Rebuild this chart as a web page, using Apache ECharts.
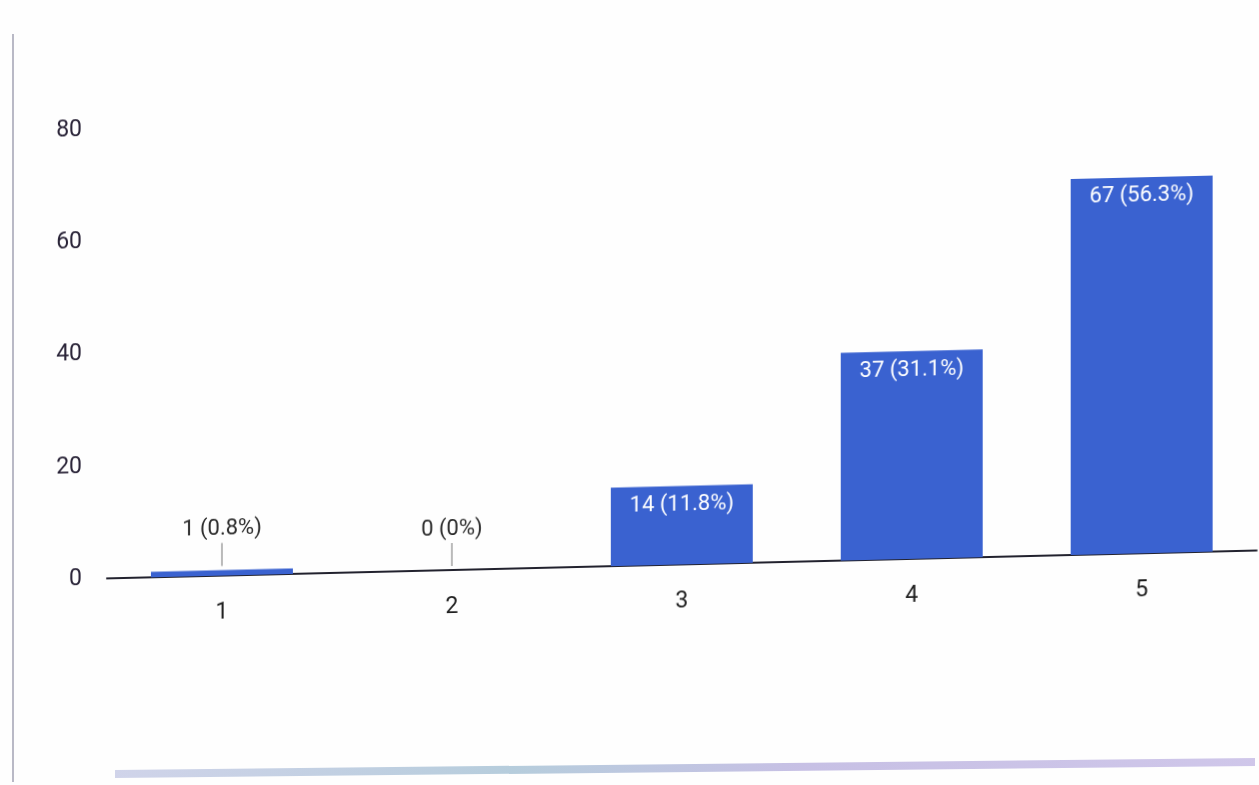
<!DOCTYPE html>
<html>
<head>
<meta charset="utf-8">
<script src="https://cdn.jsdelivr.net/npm/echarts@6/dist/echarts.min.js"></script>
<style>
  html, body { margin: 0; padding: 0; background: #ffffff; overflow: hidden; }
  #page { position: relative; width: 1259px; height: 785px; background: #fefefe; }
  #frame { position: absolute; left: 12px; top: 34px; width: 2px; height: 748px; background: #b9b9c6; }
  #strip { position: absolute; left: 115px; top: 770px; width: 1140px; height: 8px;
           background: linear-gradient(90deg, #c8cce6, #a9c4d6 35%, #bdb5e0 60%, #c7bde6);
           transform: skewY(-0.6deg); transform-origin: 0 0; opacity: 0.85; }
  #chart { position: absolute; left: 0; top: 0; width: 1259px; height: 785px;
           transform: skewY(-1.39deg); transform-origin: 0 0; }
</style>
</head>
<body>
<div id="page">
  <div id="frame"></div>
  <div id="strip"></div>
  <div id="chart"></div>
</div>
<script>
// Rating responses (1–5): counts and their share of all answers
const categories = ['1', '2', '3', '4', '5'];
const counts = [1, 0, 14, 37, 67];
const shares = ['0.8%', '0%', '11.8%', '31.1%', '56.3%'];
const yTicks = [0, 20, 40, 60, 80];

const FONT = "'Liberation Sans Narrow', 'Roboto', 'Liberation Sans', sans-serif";
const BAR = '#3a62d0';

// Small bars get their label lifted above with a short guide line,
// tall bars carry a white label just inside their top edge.
const barData = counts.map(v => {
  const small = v < 5;
  return {
    value: v,
    label: small
      ? { show: true, position: 'top', distance: 30, color: '#2a2a2a' }
      : { show: true, position: 'insideTop', distance: 8, color: '#ffffff' }
  };
});

const chart = echarts.init(document.getElementById('chart'), null, { renderer: 'canvas' });
chart.setOption({
  animation: false,
  backgroundColor: 'transparent',
  grid: { left: 107, right: 2, top: 132, bottom: 204, containLabel: false },
  xAxis: {
    type: 'category',
    data: categories,
    axisLine: { show: true, lineStyle: { color: '#22222e', width: 2 } },
    axisTick: { show: false },
    axisLabel: { color: '#1e1e1e', fontSize: 23, fontFamily: FONT, margin: 26 }
  },
  yAxis: {
    type: 'value',
    min: yTicks[0],
    max: yTicks[yTicks.length - 1],
    interval: yTicks[1] - yTicks[0],
    axisLine: { show: false },
    axisTick: { show: false },
    splitLine: { show: false },
    axisLabel: { color: '#2a2438', fontSize: 23, fontFamily: FONT, margin: 25 }
  },
  series: [
    {
      type: 'bar',
      data: barData,
      barWidth: 142,
      itemStyle: { color: BAR },
      label: {
        fontSize: 22,
        fontFamily: FONT,
        formatter: p => p.value + ' (' + shares[p.dataIndex] + ')'
      }
    },
    {
      // short guide lines from the lifted labels down to the small bars
      type: 'custom',
      data: counts.map((v, i) => [i, v]),
      renderItem: (params, api) => {
        const v = api.value(1);
        if (v >= 5) return null;
        const p = api.coord([api.value(0), v]);
        return {
          type: 'line',
          shape: { x1: p[0], y1: p[1] - 4, x2: p[0], y2: p[1] - 27 },
          style: { stroke: '#777', lineWidth: 1 }
        };
      },
      z: 3
    }
  ]
});
</script>
</body>
</html>
